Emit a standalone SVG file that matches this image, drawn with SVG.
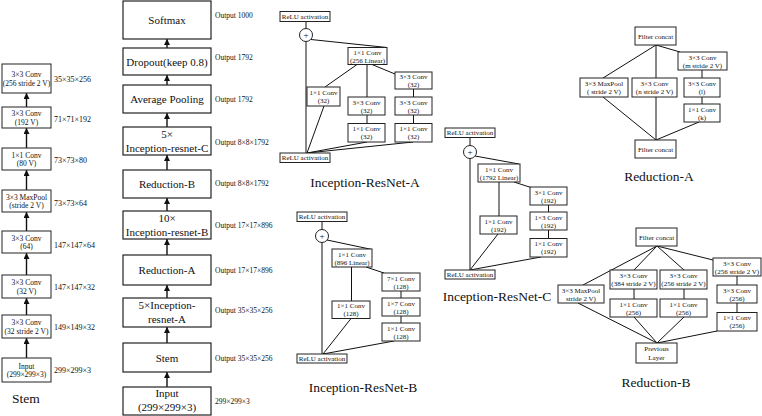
<svg xmlns="http://www.w3.org/2000/svg" width="762" height="416" viewBox="0 0 762 416">
<style>
.bx{fill:#fff;stroke:#222;stroke-width:1}
.mb{fill:#fff;stroke:#222;stroke-width:1.2}
.ln{stroke:#111;stroke-width:1;fill:none}
.ar{stroke:#111;stroke-width:1.4;fill:none}
text{font-family:"Liberation Serif","Times New Roman",serif;fill:#111}
.m{font-size:11px;text-anchor:middle}
.s{font-size:7.5px;text-anchor:middle}
.r{font-size:7px;text-anchor:middle}
.o{font-size:7.5px}
.l{font-size:8px}
.ttl{font-size:13.5px;text-anchor:middle}
.pl{font-size:9px;text-anchor:middle}
</style>
<defs>
<marker id="ah" viewBox="0 0 10 10" refX="10" refY="5" markerUnits="userSpaceOnUse" markerWidth="7" markerHeight="6" orient="auto">
<path d="M0,0 L10,5 L0,10 z" fill="#111"/>
</marker>
</defs>
<rect width="762" height="416" fill="#fff"/>

<g id="connectors">
<path class="ar" marker-end="url(#ah)" d="M26.5,107 V93"/>
<path class="ar" marker-end="url(#ah)" d="M26.5,148 V128"/>
<path class="ar" marker-end="url(#ah)" d="M26.5,190 V170"/>
<path class="ar" marker-end="url(#ah)" d="M26.5,231 V212"/>
<path class="ar" marker-end="url(#ah)" d="M26.5,275 V253"/>
<path class="ar" marker-end="url(#ah)" d="M26.5,315 V298"/>
<path class="ar" marker-end="url(#ah)" d="M26.5,358 V338"/>
<path class="ar" marker-end="url(#ah)" d="M167,48 V39"/>
<path class="ar" marker-end="url(#ah)" d="M167,85 V75"/>
<path class="ar" marker-end="url(#ah)" d="M167,127 V113"/>
<path class="ar" marker-end="url(#ah)" d="M167,170 V155"/>
<path class="ar" marker-end="url(#ah)" d="M167,211 V198"/>
<path class="ar" marker-end="url(#ah)" d="M167,255 V239"/>
<path class="ar" marker-end="url(#ah)" d="M167,298 V285"/>
<path class="ar" marker-end="url(#ah)" d="M167,343 V327"/>
<path class="ar" marker-end="url(#ah)" d="M167,387 V372"/>
<path class="ln" d="M306,21.5 V28.5 M306,41.5 V153 M311,39.5 L387,47.5 M367,64.5 V97 M357,64.5 L325,87 M372,64.5 L395,74 M367,115 V123.5 M413.5,89 V97 M413.5,115 V123.5 M307,153 L324,106 M307,153 L367,142 M307,153 L413,142"/>
<path class="ln" d="M322,221.5 V229.5 M322,242.5 V354 M327,240 L372,249.5 M351.5,267 V301 M366,267 L384,273 M401,291 V298 M401,316 V323 M323,354 L351,318.5 M323,354 L394,341"/>
<path class="ln" d="M470,137.5 V145.5 M470,158.5 V270 M475,156 L519,164 M499,182 V216 M514,182 L531,187.5 M548.5,205 V212 M548.5,230 V238.5 M470,270 L498,234 M470,270 L541,257"/>
<path class="ln" d="M656,45 L603,78 M656,45 V78 M656,45 L680,52 M702,70 V78 M702,97 V104 M656,140 L603,97 M656,97 V140 M656,140 L699,122"/>
<path class="ln" d="M657,246 L583,285 M657,246 L634,270 M657,246 L684,270 M657,246 L713,260 M634,289 V299 M684,289 V299 M737,276 V285 M737,303 V312.5 M657,343 L578,303 M657,343 L634,317 M657,343 L684,317 M657,343 L717,331"/>
</g>

<g id="stem-conv256"><rect class="bx" x="2" y="64" width="49" height="29"/><text class="s" x="26.5" y="77">3×3 Conv</text><text class="s" x="26.5" y="85.5">(256 stride 2 V)</text></g>
<g id="stem-conv192"><rect class="bx" x="2" y="107" width="49" height="21"/><text class="s" x="26.5" y="116">3×3 Conv</text><text class="s" x="26.5" y="124.5">(192 V)</text></g>
<g id="stem-conv80"><rect class="bx" x="2" y="148" width="49" height="22"/><text class="s" x="26.5" y="157.5">1×1 Conv</text><text class="s" x="26.5" y="166">(80 V)</text></g>
<g id="stem-maxpool"><rect class="bx" x="2" y="190" width="49" height="22"/><text class="s" x="26.5" y="199.5">3×3 MaxPool</text><text class="s" x="26.5" y="208">(stride 2 V)</text></g>
<g id="stem-conv64"><rect class="bx" x="2" y="231" width="49" height="22"/><text class="s" x="26.5" y="240.5">3×3 Conv</text><text class="s" x="26.5" y="249">(64)</text></g>
<g id="stem-conv32v"><rect class="bx" x="2" y="275" width="49" height="23"/><text class="s" x="26.5" y="285">3×3 Conv</text><text class="s" x="26.5" y="293.5">(32 V)</text></g>
<g id="stem-conv32s"><rect class="bx" x="2" y="315" width="49" height="23"/><text class="s" x="26.5" y="325">3×3 Conv</text><text class="s" x="26.5" y="333.5">(32 stride 2 V)</text></g>
<g id="stem-input"><rect class="bx" x="2" y="358" width="49" height="24"/><text class="s" x="26.5" y="368.5">Input</text><text class="s" x="26.5" y="377">(299×299×3)</text></g>
<g id="stem-labels">
<text class="l" x="54" y="81.5">35×35×256</text>
<text class="l" x="54" y="121.5">71×71×192</text>
<text class="l" x="54" y="162.5">73×73×80</text>
<text class="l" x="54" y="205.5">73×73×64</text>
<text class="l" x="54" y="247.5">147×147×64</text>
<text class="l" x="54" y="289.5">147×147×32</text>
<text class="l" x="54" y="329.5">149×149×32</text>
<text class="l" x="54" y="372.5">299×299×3</text>
<text class="ttl" x="26" y="403">Stem</text>
</g>

<g id="softmax"><rect class="mb" x="123" y="1" width="88" height="38"/><text class="m" x="167" y="24">Softmax</text></g>
<g id="dropout"><rect class="mb" x="123" y="48" width="88" height="27"/><text class="m" x="167" y="65.5">Dropout(keep 0.8)</text></g>
<g id="avgpool"><rect class="mb" x="123" y="85" width="88" height="28"/><text class="m" x="167" y="103">Average Pooling</text></g>
<g id="irc5"><rect class="mb" x="123" y="127" width="88" height="28"/><text class="m" x="167" y="138">5×</text><text class="m" x="167" y="152">Inception-resnet-C</text></g>
<g id="redb"><rect class="mb" x="123" y="170" width="88" height="28"/><text class="m" x="167" y="188">Reduction-B</text></g>
<g id="irb10"><rect class="mb" x="123" y="211" width="88" height="28"/><text class="m" x="167" y="222">10×</text><text class="m" x="167" y="236">Inception-resnet-B</text></g>
<g id="reda"><rect class="mb" x="123" y="255" width="88" height="30"/><text class="m" x="167" y="274">Reduction-A</text></g>
<g id="ira5"><rect class="mb" x="123" y="298" width="88" height="29"/><text class="m" x="167" y="309">5×Inception-</text><text class="m" x="167" y="323">resnet-A</text></g>
<g id="stem"><rect class="mb" x="123" y="343" width="88" height="29"/><text class="m" x="167" y="361.5">Stem</text></g>
<g id="input"><rect class="mb" x="123" y="387" width="88" height="28"/><text class="m" x="167" y="397">Input</text><text class="m" x="167" y="411">(299×299×3)</text></g>
<g id="main-labels">
<text class="o" x="215" y="17.5">Output 1000</text>
<text class="o" x="215" y="59.5">Output 1792</text>
<text class="o" x="215" y="101.5">Output 1792</text>
<text class="o" x="215" y="144.5">Output 8×8×1792</text>
<text class="o" x="215" y="185.5">Output 8×8×1792</text>
<text class="o" x="215" y="227.5">Output 17×17×896</text>
<text class="o" x="215" y="272.5">Output 17×17×896</text>
<text class="o" x="215" y="312.5">Output 35×35×256</text>
<text class="o" x="215" y="360.5">Output 35×35×256</text>
<text class="o" x="215" y="403.5">299×299×3</text>
</g>

<g id="a-relu-top"><rect class="bx" x="280" y="11.5" width="50" height="10"/><text class="r" x="305" y="19">ReLU activation</text></g>
<g id="a-add"><circle class="bx" cx="306" cy="35" r="6.5"/><text class="pl" x="306" y="38">+</text></g>
<g id="a-lin"><rect class="bx" x="348" y="47.5" width="39" height="17"/><text class="r" x="367.5" y="54.5">1×1 Conv</text><text class="r" x="367.5" y="62.5">(256 Linear)</text></g>
<g id="a-left"><rect class="bx" x="307" y="87" width="33" height="19"/><text class="r" x="323.5" y="95">1×1 Conv</text><text class="r" x="323.5" y="103">(32)</text></g>
<g id="a-m1"><rect class="bx" x="348" y="97" width="37" height="18"/><text class="r" x="366.5" y="104.5">3×3 Conv</text><text class="r" x="366.5" y="112.5">(32)</text></g>
<g id="a-m2"><rect class="bx" x="348" y="123.5" width="37" height="18.5"/><text class="r" x="366.5" y="131">1×1 Conv</text><text class="r" x="366.5" y="139">(32)</text></g>
<g id="a-r1"><rect class="bx" x="395" y="72" width="37" height="17"/><text class="r" x="413.5" y="79">3×3 Conv</text><text class="r" x="413.5" y="87">(32)</text></g>
<g id="a-r2"><rect class="bx" x="395" y="97" width="37" height="18"/><text class="r" x="413.5" y="104.5">3×3 Conv</text><text class="r" x="413.5" y="112.5">(32)</text></g>
<g id="a-r3"><rect class="bx" x="395" y="123.5" width="37" height="18.5"/><text class="r" x="413.5" y="131">1×1 Conv</text><text class="r" x="413.5" y="139">(32)</text></g>
<g id="a-relu-bot"><rect class="bx" x="280" y="153" width="50" height="9.5"/><text class="r" x="305" y="160.3">ReLU activation</text></g>
<text class="ttl" x="365" y="187">Inception-ResNet-A</text>

<g id="b-relu-top"><rect class="bx" x="297" y="212" width="50" height="9.5"/><text class="r" x="322" y="219.3">ReLU activation</text></g>
<g id="b-add"><circle class="bx" cx="322" cy="236" r="6.5"/><text class="pl" x="322" y="239">+</text></g>
<g id="b-lin"><rect class="bx" x="332" y="249" width="40" height="18"/><text class="r" x="352" y="256.5">1×1 Conv</text><text class="r" x="352" y="264.5">(896 Linear)</text></g>
<g id="b-left"><rect class="bx" x="332" y="301" width="38" height="17.5"/><text class="r" x="351" y="308">1×1 Conv</text><text class="r" x="351" y="316">(128)</text></g>
<g id="b-r1"><rect class="bx" x="382" y="273" width="38" height="18"/><text class="r" x="401" y="280.5">7×1 Conv</text><text class="r" x="401" y="288.5">(128)</text></g>
<g id="b-r2"><rect class="bx" x="382" y="298" width="38" height="18"/><text class="r" x="401" y="305.5">1×7 Conv</text><text class="r" x="401" y="313.5">(128)</text></g>
<g id="b-r3"><rect class="bx" x="382" y="323" width="38" height="18"/><text class="r" x="401" y="330.5">1×1 Conv</text><text class="r" x="401" y="338.5">(128)</text></g>
<g id="b-relu-bot"><rect class="bx" x="297" y="354" width="50" height="9"/><text class="r" x="322" y="361">ReLU activation</text></g>
<text class="ttl" x="363" y="392">Inception-ResNet-B</text>

<g id="c-relu-top"><rect class="bx" x="445" y="128" width="50" height="9.5"/><text class="r" x="470" y="135.3">ReLU activation</text></g>
<g id="c-add"><circle class="bx" cx="470" cy="152" r="6.5"/><text class="pl" x="470" y="155">+</text></g>
<g id="c-lin"><rect class="bx" x="478" y="164" width="42" height="18"/><text class="r" x="499" y="171.5">1×1 Conv</text><text class="r" x="499" y="179.5">(1792 Linear)</text></g>
<g id="c-left"><rect class="bx" x="480" y="216" width="37" height="18"/><text class="r" x="498.5" y="223.5">1×1 Conv</text><text class="r" x="498.5" y="231.5">(192)</text></g>
<g id="c-r1"><rect class="bx" x="530" y="187" width="37" height="18"/><text class="r" x="548.5" y="194.5">3×1 Conv</text><text class="r" x="548.5" y="202.5">(192)</text></g>
<g id="c-r2"><rect class="bx" x="530" y="212" width="37" height="18"/><text class="r" x="548.5" y="219.5">1×3 Conv</text><text class="r" x="548.5" y="227.5">(192)</text></g>
<g id="c-r3"><rect class="bx" x="530" y="238.5" width="37" height="18.5"/><text class="r" x="548.5" y="246">1×1 Conv</text><text class="r" x="548.5" y="254">(192)</text></g>
<g id="c-relu-bot"><rect class="bx" x="445" y="270" width="50" height="9"/><text class="r" x="470" y="277">ReLU activation</text></g>
<text class="ttl" x="497" y="301">Inception-ResNet-C</text>

<g id="ra-concat-top"><rect class="bx" x="635" y="27" width="41" height="18"/><text class="r" x="655.5" y="38.5">Filter concat</text></g>
<g id="ra-m"><rect class="bx" x="678" y="52" width="49" height="18"/><text class="r" x="702.5" y="59.5">3×3 Conv</text><text class="r" x="702.5" y="67.5">(m stride 2 V)</text></g>
<g id="ra-maxpool"><rect class="bx" x="580" y="78" width="48" height="19"/><text class="r" x="604" y="86">3×3 MaxPool</text><text class="r" x="604" y="94">( stride 2 V)</text></g>
<g id="ra-n"><rect class="bx" x="632" y="78" width="45" height="19"/><text class="r" x="654.5" y="86">3×3 Conv</text><text class="r" x="654.5" y="94">(n stride 2 V)</text></g>
<g id="ra-l"><rect class="bx" x="684" y="78" width="36" height="19"/><text class="r" x="702" y="86">3×3 Conv</text><text class="r" x="702" y="94">(l)</text></g>
<g id="ra-k"><rect class="bx" x="684" y="104" width="36" height="18"/><text class="r" x="702" y="111.5">1×1 Conv</text><text class="r" x="702" y="119.5">(k)</text></g>
<g id="ra-concat-bot"><rect class="bx" x="635" y="140" width="41" height="18"/><text class="r" x="655.5" y="151.5">Filter concat</text></g>
<text class="ttl" x="659" y="181">Reduction-A</text>

<g id="rb-concat"><rect class="bx" x="636" y="228" width="41" height="18"/><text class="r" x="656.5" y="239.5">Filter concat</text></g>
<g id="rb-maxpool"><rect class="bx" x="558" y="285" width="46" height="18"/><text class="r" x="581" y="292.5">3×3 MaxPool</text><text class="r" x="581" y="300.5">stride 2 V)</text></g>
<g id="rb-c384"><rect class="bx" x="610" y="270" width="47" height="19"/><text class="r" x="633.5" y="278">3×3 Conv</text><text class="r" x="633.5" y="286">(384 stride 2 V)</text></g>
<g id="rb-c256"><rect class="bx" x="660" y="270" width="47" height="19"/><text class="r" x="683.5" y="278">3×3 Conv</text><text class="r" x="683.5" y="286">(256 stride 2 V)</text></g>
<g id="rb-k1"><rect class="bx" x="610" y="299" width="47" height="18"/><text class="r" x="633.5" y="306.5">1×1 Conv</text><text class="r" x="633.5" y="314.5">(256)</text></g>
<g id="rb-k2"><rect class="bx" x="660" y="299" width="47" height="18"/><text class="r" x="683.5" y="306.5">1×1 Conv</text><text class="r" x="683.5" y="314.5">(256)</text></g>
<g id="rb-r1"><rect class="bx" x="713" y="258" width="48" height="18"/><text class="r" x="737" y="265.5">3×3 Conv</text><text class="r" x="737" y="273.5">(256 stride 2 V)</text></g>
<g id="rb-r2"><rect class="bx" x="717" y="285" width="40" height="18"/><text class="r" x="737" y="292.5">3×3 Conv</text><text class="r" x="737" y="300.5">(256)</text></g>
<g id="rb-r3"><rect class="bx" x="717" y="312.5" width="40" height="18.5"/><text class="r" x="737" y="320">1×1 Conv</text><text class="r" x="737" y="328">(256)</text></g>
<g id="rb-prev"><rect class="bx" x="636" y="343" width="41" height="20"/><text class="r" x="656.5" y="351">Previous</text><text class="r" x="656.5" y="360">Layer</text></g>
<text class="ttl" x="656" y="387">Reduction-B</text>
</svg>
